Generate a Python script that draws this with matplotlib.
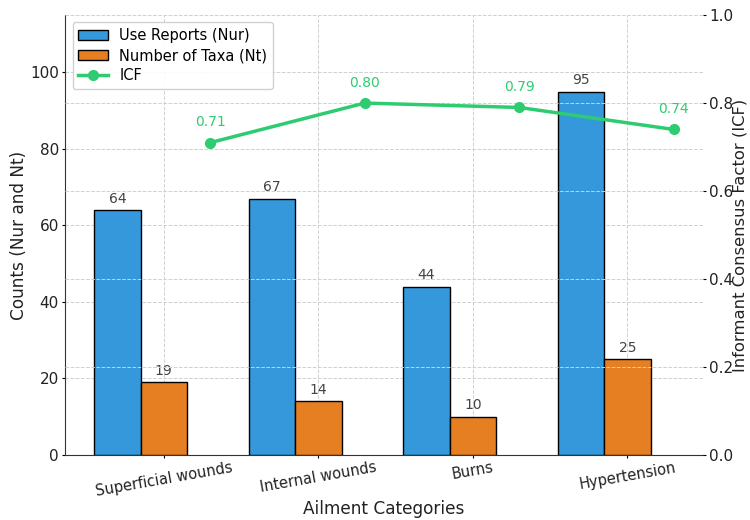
import numpy as np
import matplotlib
matplotlib.use('Agg')
import matplotlib.pyplot as plt

categories = ['Superficial wounds', 'Internal wounds', 'Burns', 'Hypertension']
use_reports = [64, 67, 44, 95]
num_taxa = [19, 14, 10, 25]
icf = [0.71, 0.80, 0.79, 0.74]

BlueBar = '#3498db'
OrangeBar = '#e67e22'
GreenLine = '#2ecc71'
TextGray = '#444444'

plt.rcParams['font.family'] = 'DejaVu Sans'

fig, ax = plt.subplots(figsize=(7.5, 5.2), dpi=100)
fig.subplots_adjust(left=0.087, right=0.937, top=0.971, bottom=0.125)

x = np.arange(len(categories))
width = 0.3

bars1 = ax.bar(x - width, use_reports, width, color=BlueBar, edgecolor='black',
               label='Use Reports (Nur)', zorder=3)
bars2 = ax.bar(x, num_taxa, width, color=OrangeBar, edgecolor='black',
               label='Number of Taxa (Nt)', zorder=3)

for b in list(bars1) + list(bars2):
    ax.text(b.get_x() + b.get_width() / 2, b.get_height() + 1.2, f'{int(b.get_height())}',
            ha='center', va='bottom', fontsize=10, color=TextGray)

ax.set_ylim(0, 115)
ax.set_xticks(x)
ax.set_xticklabels(categories, rotation=10, fontsize=10.5, color='#222222')
ax.tick_params(axis='x', length=2.5, pad=1)
ax.tick_params(axis='y', length=2.5, pad=2, labelsize=11, labelcolor='#222222')
ax.set_xlabel('Ailment Categories', fontsize=12.2, color='#222222')
ax.set_ylabel('Counts (Nur and Nt)', fontsize=12.2, color='#222222')
ax.xaxis.set_label_coords(0.5, -0.102)
ax.yaxis.set_label_coords(-0.058, 0.5)
ax.grid(True, linestyle='--', color='#d0d0d0', linewidth=0.7, zorder=0)
ax.set_axisbelow(True)
ax.spines['top'].set_visible(False)
ax.spines['right'].set_visible(False)
ax.spines['left'].set_color('#333333')
ax.spines['bottom'].set_color('#333333')

ax2 = ax.twinx()
line, = ax2.plot(x + width, icf, color=GreenLine, marker='o', linewidth=2.5,
                 markersize=7, label='ICF', zorder=4)
for xi, v in zip(x + width, icf):
    ax2.text(xi, v + 0.03, f'{v:.2f}', ha='center', va='bottom', fontsize=10, color=GreenLine)
ax2.set_ylim(0, 1.0)
ax2.set_ylabel('Informant Consensus Factor (ICF)', fontsize=11.8, color='#222222')
ax2.yaxis.set_label_coords(1.047, 0.5)
ax2.tick_params(axis='y', labelsize=11, labelcolor='#222222', length=2.5, pad=2)
ax2.grid(True, linestyle='--', color='#d0d0d0', linewidth=0.7)
for s in ['top', 'right', 'left', 'bottom']:
    ax2.spines[s].set_visible(False)

handles = [bars1, bars2, line]
labels = [h.get_label() for h in handles]
ax.legend(handles, labels, loc='upper left', fontsize=10.5, labelspacing=0.35,
          framealpha=0.9)

fig.savefig('out.png', dpi=100)
